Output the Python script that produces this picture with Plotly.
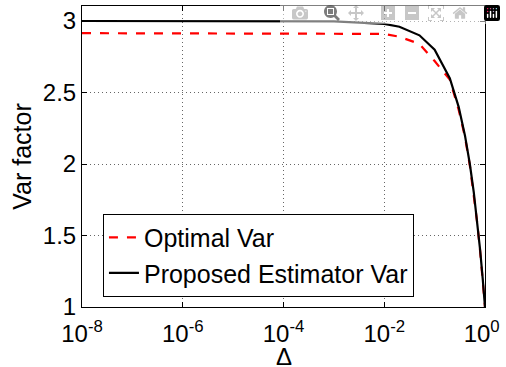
import plotly.graph_objects as go

delta = [1e-8, 1e-7, 1e-6, 1e-5, 1e-4, 1e-3, 1e-2, 0.02, 0.05, 0.1, 0.2, 0.3, 0.4, 0.5, 0.6, 0.7, 0.8, 0.9, 1.0]
optimal_var = [2.915, 2.915, 2.915, 2.915, 2.915, 2.915, 2.91, 2.89, 2.84, 2.72, 2.59, 2.38, 2.19, 1.99, 1.79, 1.59, 1.39, 1.19, 1.0]
proposed_var = [3.0, 3.0, 3.0, 3.0, 3.0, 2.998, 2.98, 2.96, 2.90, 2.80, 2.60, 2.40, 2.20, 2.00, 1.80, 1.60, 1.40, 1.20, 1.00]

x_tickvals = [1e-8, 1e-6, 1e-4, 1e-2, 1]
x_ticktext = ["10<sup>-8</sup>", "10<sup>-6</sup>", "10<sup>-4</sup>", "10<sup>-2</sup>",
              "10<sup>0</sup>\u00a0"]
y_tickvals = [1, 1.5, 2, 2.5, 3]
y_ticktext = ["1", "1.5", "2", "2.5", "3"]

font = "Liberation Sans, Arial, Helvetica, sans-serif"
fs = 24

fig = go.Figure()
fig.add_trace(go.Scatter(x=delta, y=optimal_var, mode="lines", name="Optimal Var",
                         line=dict(color="#ff0000", width=2.2, dash="dash")))
fig.add_trace(go.Scatter(x=delta, y=proposed_var, mode="lines", name="Proposed Estimator Var",
                         line=dict(color="#000000", width=2.2)))

fig.add_annotation(text="Δ", xref="paper", yref="paper", x=0.5, y=0,
                   xanchor="center", yanchor="middle", yshift=-49,
                   showarrow=False, font=dict(family=font, size=fs, color="black"))

fig.update_layout(
    width=506, height=367,
    margin=dict(l=82, r=21, t=6, b=60, autoexpand=False),
    paper_bgcolor="white", plot_bgcolor="white",
    font=dict(family=font, size=fs, color="black"),
    showlegend=True,
    legend=dict(x=0.052, y=0.31, xanchor="left", yanchor="top",
                bgcolor="white", bordercolor="black", borderwidth=1,
                font=dict(size=25), tracegroupgap=0, itemwidth=30),
    xaxis=dict(type="log", range=[-8, 0], tickvals=x_tickvals, ticktext=x_ticktext,
               automargin=False,
               showline=True, linecolor="black", linewidth=1, mirror="ticks",
               ticks="inside", ticklen=5, tickcolor="black",
               showgrid=True, gridcolor="#666666", griddash="1px,3px", gridwidth=1,
               zeroline=False, ticklabelstandoff=5, ticklabeloverflow="allow",
               tickfont=dict(size=fs)),
    yaxis=dict(range=[1, 3.105], tickvals=y_tickvals, ticktext=y_ticktext,
               automargin=False,
               showline=True, linecolor="black", linewidth=1, mirror="ticks",
               ticks="inside", ticklen=5, tickcolor="black",
               showgrid=True, gridcolor="#666666", griddash="1px,3px", gridwidth=1,
               zeroline=False, ticklabelstandoff=0,
               title=dict(text="Var factor", standoff=4, font=dict(size=25)),
               tickfont=dict(size=fs)),
)

fig.write_html("out.html", post_script="document.body.style.margin='0';")
